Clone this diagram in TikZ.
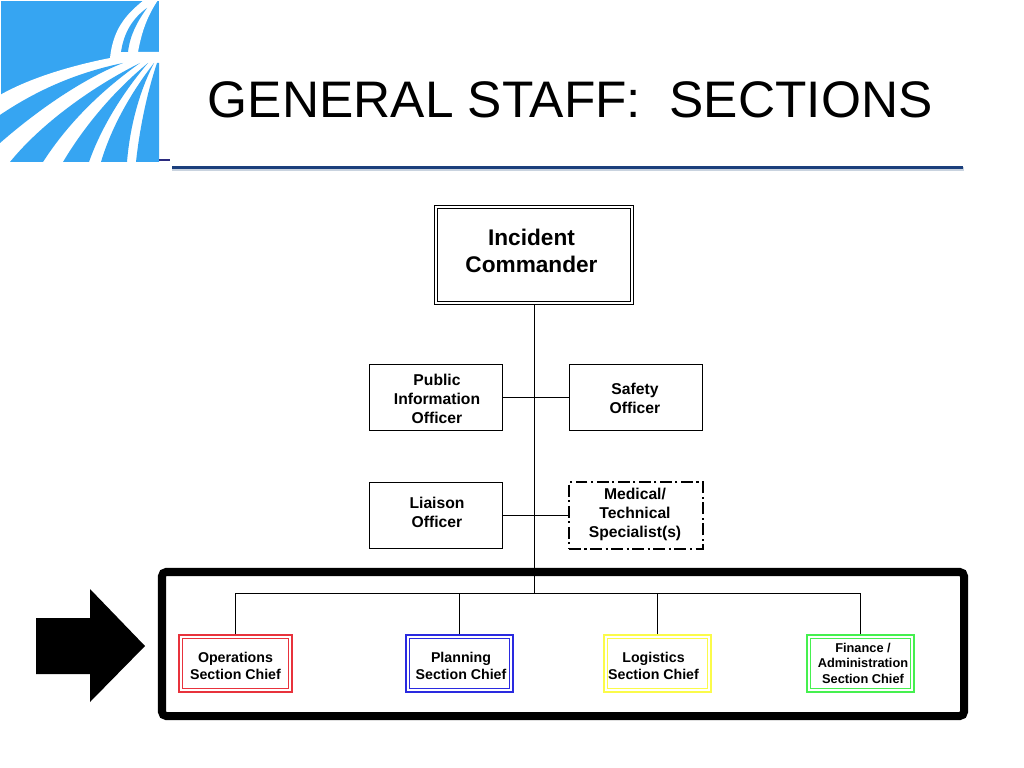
\documentclass[tikz,border=0pt]{standalone}
\usepackage{fontspec}
\setmainfont{Liberation Sans}
\usepackage{xcolor}
\usetikzlibrary{positioning}
\definecolor{logoblue}{HTML}{36A5F2}
\definecolor{rulenavy}{HTML}{1B3F7C}
\definecolor{rulepale}{HTML}{C9D3DF}
\definecolor{dashnavy}{HTML}{2B2B7F}
\definecolor{opsred}{HTML}{E8323C}
\definecolor{planblue}{HTML}{2A2AE0}
\definecolor{logyellow}{HTML}{FBFB4A}
\definecolor{fingreen}{HTML}{45F04F}
\tikzset{
    plainbox/.style={draw=black, line width=0.6pt, minimum width=3.33cm, minimum height=1.67cm},
    dashbox/.style={draw=black, line width=1.5pt, minimum width=3.35cm, minimum height=1.67cm,
        dash pattern=on 8.5pt off 2.5pt on 1.5pt off 2.5pt},
    topbox/.style={draw=black, line width=0.6pt, minimum width=4.98cm, minimum height=2.48cm},
    topinner/.style={draw=black, line width=0.6pt, minimum width=4.84cm, minimum height=2.34cm},
    chiefbox/.style={draw=#1, line width=1.15pt, minimum height=1.41cm},
    chiefinner/.style={draw=#1, line width=1pt, minimum height=1.26cm},
    bigtext/.style={align=center, font=\fontsize{16.1}{19.2}\selectfont\bfseries},
    midtext/.style={align=center, font=\fontsize{11.15}{13.5}\selectfont\bfseries},
    chieftext/.style={align=center, font=\fontsize{10.1}{12.1}\selectfont\bfseries},
    fintext/.style={align=center, font=\fontsize{9.1}{11}\selectfont\bfseries},
    link/.style={draw=black, line width=0.7pt}
}
\begin{document}
\begin{tikzpicture}[x=0.025cm, y=-0.025cm]
    \useasboundingbox (0,0) rectangle (1024,768);
    \fill[logoblue] (1,1) rectangle (159,162);
    \fill[white] (0,95) .. controls (30,78) and (70,66) .. (110,58)
        .. controls (113,30) and (125,15) .. (144,0) -- (158,0)
        .. controls (148,15) and (142,30) .. (138,52) -- (159,52) -- (159,163) -- (0,163) -- cycle;
    \fill[logoblue] (121,52) .. controls (124,32) and (133,18) .. (147,8)
        .. controls (137,22) and (130,35) .. (128,52) -- cycle;
    \fill[logoblue] (0,115) .. controls (40,88) and (80,72) .. (123,63)
        .. controls (85,78) and (40,108) .. (0,143) -- cycle;
    \fill[logoblue] (10,162) .. controls (40,125) and (90,88) .. (140,63)
        .. controls (105,88) and (70,120) .. (43,162) -- cycle;
    \fill[logoblue] (63,162) .. controls (85,125) and (115,90) .. (148,63)
        .. controls (125,90) and (102,125) .. (89,162) -- cycle;
    \fill[logoblue] (101,162) .. controls (112,125) and (133,90) .. (154,63)
        .. controls (140,90) and (130,125) .. (127,162) -- cycle;
    \fill[logoblue] (136,162) .. controls (140,125) and (148,90) .. (157,63) -- (159,63) -- (159,162) -- cycle;
    \fill[dashnavy] (159,159.5) rectangle (170,161.5);
    \fill[rulepale] (172,167) rectangle (964,171);
    \fill[rulenavy] (172,166) rectangle (963,169);
    \node[anchor=west, font=\fontsize{36.55}{40}\selectfont] (title) at (203,100) {GENERAL STAFF:\ \ SECTIONS};
    \node[topbox] (ic) at (534,255) {};
    \node[topinner] (icin) at (534,255) {};
    \node[plainbox] (pio) at (436,397.5) {};
    \node[plainbox] (safety) at (636,397.5) {};
    \node[plainbox] (liaison) at (436,515.5) {};
    \node[dashbox] (medical) at (636,515.5) {};
    \node[chiefbox=opsred, minimum width=2.81cm] (ops) at (235.5,663.5) {};
    \node[chiefinner=opsred, minimum width=2.66cm] (opsin) at (235.5,663.5) {};
    \node[chiefbox=planblue, minimum width=2.66cm] (plan) at (459.5,663.5) {};
    \node[chiefinner=planblue, minimum width=2.51cm] (planin) at (459.5,663.5) {};
    \node[chiefbox=logyellow, minimum width=2.66cm] (logi) at (657.5,663.5) {};
    \node[chiefinner=logyellow, minimum width=2.51cm] (logiin) at (657.5,663.5) {};
    \node[chiefbox=fingreen, minimum width=2.66cm] (fin) at (860.5,663.5) {};
    \node[chiefinner=fingreen, minimum width=2.51cm] (finin) at (860.5,663.5) {};
    \coordinate (bus) at (534,593);
    \draw[link] (ic) -- (bus);
    \draw[link] (pio) -- (safety);
    \draw[link] (liaison) -- (medical);
    \draw[link] (ops) |- (bus);
    \draw[link] (plan) |- (bus);
    \draw[link] (logi) |- (bus);
    \draw[link] (fin) |- (bus);
    \draw[black, line width=5.7pt, rounded corners=3pt] (162,572) rectangle (964,716);
    \fill[black] (36,618) -- (90,618) -- (90,589) -- (145,646) -- (90,702) -- (90,674) -- (36,674) -- cycle;
    \node[bigtext] (ictext) at (531.5,250.5) {Incident\\Commander};
    \node[midtext] (piotext) at (437,399) {Public\\Information\\Officer};
    \node[midtext] (safetytext) at (635,398.5) {Safety\\Officer};
    \node[midtext] (liaisontext) at (437,512) {Liaison\\Officer};
    \node[midtext] (medicaltext) at (635,514) {Medical/\\Technical\\Specialist(s)};
    \node[chieftext] (opstext) at (235.5,665.5) {Operations\\Section Chief};
    \node[chieftext] (plantext) at (461,665.5) {Planning\\Section Chief};
    \node[chieftext] (logitext) at (653.5,665.5) {Logistics\\Section Chief};
    \node[fintext] (fintext) at (863,663) {Finance /\\Administration\\Section Chief};
\end{tikzpicture}
\end{document}
